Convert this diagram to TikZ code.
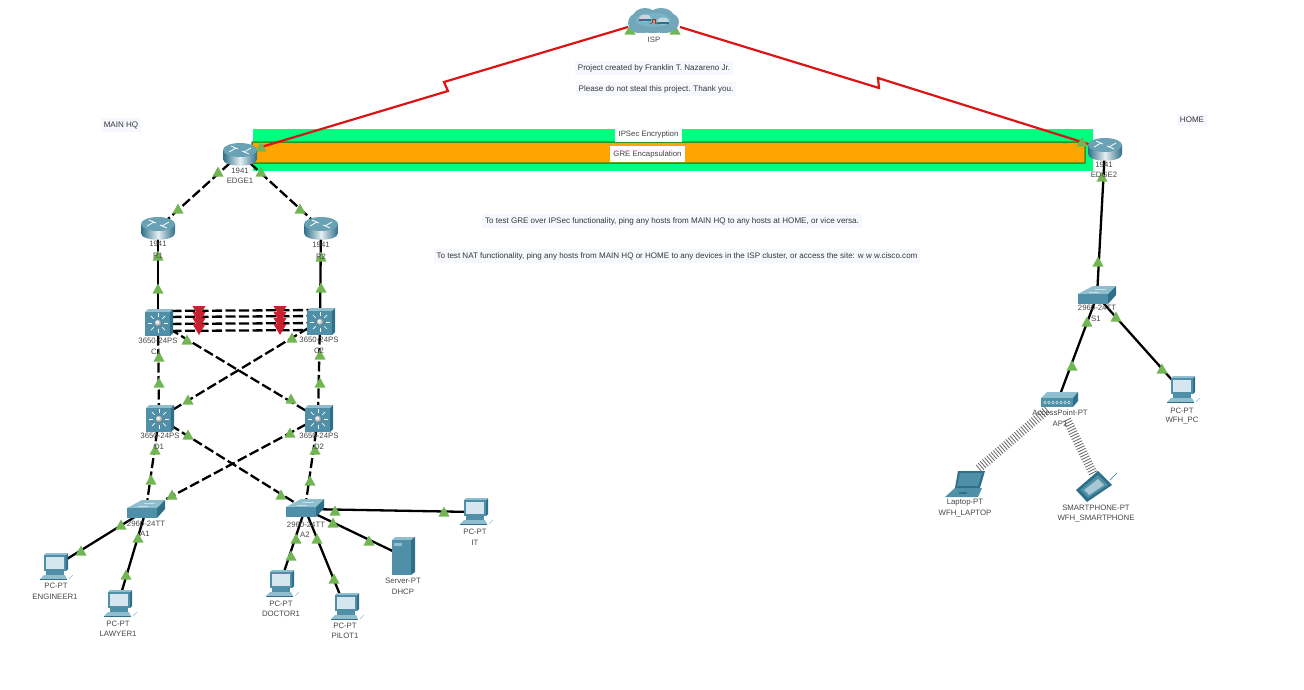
\documentclass[tikz,border=0pt]{standalone}
\usepackage{fontspec}
\setmainfont{Liberation Sans}
\usetikzlibrary{calc,decorations.pathreplacing}
\definecolor{tgreen}{HTML}{72B654}
\definecolor{ired}{HTML}{DC1414}
\definecolor{rtri}{HTML}{C8202E}
\definecolor{teal1}{HTML}{4F90A8}
\definecolor{teal2}{HTML}{2F6F88}
\definecolor{teal3}{HTML}{8FBFCF}
\definecolor{scr}{HTML}{D5E6EE}
\definecolor{notebg}{HTML}{F6F8FE}
\definecolor{ipsec}{HTML}{00FF80}
\definecolor{gre}{HTML}{FFA500}
\definecolor{greb}{HTML}{3E8A24}
\newcommand{\routerI}[1]{%
 \begin{scope}[shift={(#1)}]
 \shade[left color=teal2,right color=teal2,middle color=white!85!teal1] (-17,-4) -- (-17,5) .. controls (-17,14) and (17,14) .. (17,5) -- (17,-4) -- cycle;
 \fill[teal1!85!white] (0,-4) ellipse[x radius=17,y radius=7];
 \draw[white,line width=.8pt] (-11,-2) -- (-4,-6) (11,-6) -- (4,-2) (-9,-8) -- (-2,-5) (9,0) -- (2,-3);
 \end{scope}}
\newcommand{\mlsI}[1]{%
 \begin{scope}[shift={(#1)}]
 \fill[teal3] (-13,-10) -- (-10,-13) -- (15,-13) -- (12,-10) -- cycle;
 \fill[teal2] (12,-10) -- (15,-13) -- (15,11) -- (12,14) -- cycle;
 \fill[teal1] (-13,-10) rectangle (12,14);
 \shade[ball color=white,opacity=.9] (0,1) circle (3.5);
 \foreach \a in {0,45,...,315} \draw[white,line width=.7pt] ($(0,1)+(\a:6)$) -- ($(0,1)+(\a:10)$);
 \end{scope}}
\newcommand{\swI}[1]{%
 \begin{scope}[shift={(#1)}]
 \fill[teal3] (-19,-2) -- (-4,-10) -- (19,-10) -- (11,-2) -- cycle;
 \fill[teal2] (11,-2) -- (19,-10) -- (19,-1) -- (11,8) -- cycle;
 \fill[teal1] (-19,-2) rectangle (11,8);
 \draw[white!70!teal1,line width=.5pt] (-8,-4) -- (2,-4) (-2,-7) -- (9,-7);
 \end{scope}}
\newcommand{\pcI}[1]{%
 \begin{scope}[shift={(#1)}]
 \fill[teal2] (12,-12) -- (14,-14) -- (14,2) -- (12,4) -- cycle;
 \fill[teal3] (-10,-12) -- (-8,-14) -- (14,-14) -- (12,-12) -- cycle;
 \fill[teal1] (-10,-12) rectangle (12,4);
 \fill[scr] (-8,-10) rectangle (10,2);
 \fill[teal1] (-8,4) rectangle (10,8);
 \fill[teal3] (-10,8) -- (11,8) -- (13,12) -- (-14,12) -- cycle;
 \fill[teal2] (-14,12) rectangle (13,13);
 \draw[teal3,line width=.6pt] (15,12) -- (19,8);
 \end{scope}}
\begin{document}
\begin{tikzpicture}[x=1pt,y=-1pt,font=\fontsize{7.8}{9}\selectfont,
 lbl/.style={inner sep=0pt,text=black!72},
 note/.style={fill=notebg,inner sep=3pt,text=black!78,font=\fontsize{8.05}{9}\selectfont},
 tag/.style={fill=white,inner sep=0pt,minimum height=14pt,text=black!75},
 link/.style={line width=2.3pt,black},
 dlink/.style={link,dash pattern=on 10pt off 3.5pt},
 wan/.style={line width=2.2pt,ired},
 radio/.style={line width=.8pt,black!60,decorate,decoration={ticks,segment length=2.8pt,amplitude=4.5pt}}]
\useasboundingbox (0,0) rectangle (1304,689);
% device anchors
\foreach \n/\x/\y in {isp/653/22,edgea/240/154,ra/158/228,rb/321/228,ca/158/322,cb/320/321,da/159/418,db/318/418,aa/146/510,ab/305/509,eng/54/567,law/118/604,doc/280/584,pil/345/607,srv/403/556,it/474/512,edgeb/1105/149,sa/1097/296,ap/1058/400,wpc/1181/390,lap/965/484,pho/1096/487}
 \coordinate (\n) at (\x,\y);
\coordinate (zla) at (448,91); \coordinate (zlb) at (444,82);
\coordinate (zra) at (879,88); \coordinate (zrb) at (878,78);
\coordinate (wa1) at (1047,410); \coordinate (wa2) at (977,470);
\coordinate (wb1) at (1067,420); \coordinate (wb2) at (1093,473);
% tunnels
\fill[ipsec] (253,129) rectangle (1093,171);
\filldraw[fill=gre,draw=greb,line width=1.5pt,rounded corners=.5pt] (252,142) rectangle (1085,163);
\node[tag,minimum width=67pt] (tipsec) at (648.5,134.5) {IPSec Encryption};
\node[tag,minimum width=75pt,minimum height=16pt] (tgre) at (647.5,154) {GRE Encapsulation};
% WAN
\path (edgea) ++(18,-6) coordinate (ea) (edgeb) ++(-7,-2) coordinate (eb) (isp) ++(-25,5) coordinate (ia) (isp) ++(27,5) coordinate (ib);
\draw[wan] (ea) -- (zla) -- (zlb) -- (ia);
\draw[wan] (ib) -- (zra) -- (zrb) -- (eb);
% links
\draw[dlink] (edgea) -- (ra);
\draw[dlink] (edgea) -- (rb);
\draw[link] (ra) -- (ca);
\draw[link] (rb) -- (cb);
\foreach \o in {-11,-5,2,9} \draw[dlink] ($(ca)+(0,\o)$) -- ($(cb)+(0,\o)$);
\draw[dlink] (ca) -- (da);
\draw[dlink] (cb) -- (db);
\draw[dlink] (ca) -- (db);
\draw[dlink] (cb) -- (da);
\draw[dlink] (da) -- (aa);
\draw[dlink] (db) -- (ab);
\draw[dlink] (da) -- (ab);
\draw[dlink] (db) -- (aa);
\draw[link] (aa) -- (eng);
\draw[link] (aa) -- (law);
\draw[link] (ab) -- (doc);
\draw[link] (ab) -- (pil);
\draw[link] (ab) -- (srv);
\draw[link] (ab) -- (it);
\draw[link] (edgeb) -- (sa);
\draw[link] (sa) -- (ap);
\draw[link] (sa) -- (wpc);
\draw[radio] (wa1) -- (wa2);
\draw[radio] (wb1) -- (wb2);
% link lights
\foreach \x/\y in {261/147,1082/142,630/30,675/30,218/172,178/209,261/172,300/209,158/256,158/289,321/257,321/288,187/340,292/338,159/357,159/383,320/355,320/383,188/400,291/399,188/435,290/433,155/450,315/450,151/480,172/495,281/495,310/481,121/525,81/551,138/538,126/575,335/511,444/512,333/523,369/541,296/539,291/556,317/539,334/579,1087/322,1072/366,1116/317,1162/369,1102/177,1098/262}
 \fill[tgreen,shift={(\x,\y)}] (-5.5,4.5) -- (5.5,4.5) -- (0,-5.5) -- cycle;
\foreach \x in {199,280}{\foreach \y in {306,312,318,324}
 \fill[rtri,shift={(\x,\y)}] (-6.5,0) -- (6.5,0) -- (0,11) -- cycle;}
% devices
\foreach \n in {edgea,edgeb,ra,rb} {\routerI{\n}}
\foreach \n in {ca,cb,da,db} {\mlsI{\n}}
\foreach \n in {aa,ab,sa} {\swI{\n}}
\foreach \n in {eng,law,doc,pil,it,wpc} {\pcI{\n}}
% server
\begin{scope}[shift={(srv)}]
 \fill[teal3] (-11,-16) -- (-8,-19) -- (12,-19) -- (8,-16) -- cycle;
 \fill[teal2] (8,-16) -- (12,-19) -- (12,16) -- (8,19) -- cycle;
 \fill[teal1] (-11,-16) rectangle (8,19);
 \fill[teal3] (-9,-13) rectangle (-1,-10);
\end{scope}
% access point
\begin{scope}[shift={(ap)}]
 \fill[teal3] (-17,-2) -- (-11,-8) -- (20,-8) -- (15,-2) -- cycle;
 \fill[teal2] (15,-2) -- (20,-8) -- (20,1) -- (15,7) -- cycle;
 \fill[teal1] (-17,-2) rectangle (15,7);
 \foreach \x in {-13,-9,...,11} \draw[white!75!teal1,line width=.5pt] (\x-1.3,2.5) -- (\x,1) -- (\x+1.3,2.5) -- (\x,4) -- cycle;
\end{scope}
% laptop
\begin{scope}[shift={(lap)}]
 \fill[teal2] (-7,-13) -- (20,-13) -- (15,4) -- (-10,4) -- cycle;
 \fill[teal1] (-5,-11) -- (17,-11) -- (13,2) -- (-8,2) -- cycle;
 \fill[teal1] (-10,4) -- (17,4) -- (13,13) -- (-20,13) -- cycle;
 \fill[teal2] (-6,8) rectangle (2,10);
\end{scope}
% smartphone
\begin{scope}[shift={(pho)}]
 \fill[teal2] (-20,3) -- (2,-16) -- (16,-2) -- (-9,15) -- cycle;
 \fill[teal1] (-16,3) -- (2,-12) -- (12,-2) -- (-8,11) -- cycle;
 \fill[white!50!teal1] (-12,3) -- (2,-8) -- (8,-2) -- (-7,8) -- cycle;
 \draw[teal2,line width=.5pt] (14,-7) -- (21,-14);
\end{scope}
% cloud
\begin{scope}[shift={(isp)}]
 \foreach \x/\y/\a/\b in {-15/1/10/10,-8/-5/12/9,8/-5/13/9,16/0/10/9,0/3/18/8,-10/3/13/8,11/3/14/8}
  \fill[teal1!80!white] (\x,\y) ellipse[x radius=\a,y radius=\b];
 \fill[teal3!70!teal1] (0,-2) ellipse[x radius=18,y radius=7];
 \foreach \x/\y in {-8/-4,10/-1} {
  \fill[white!65!teal1] (\x,\y) ellipse[x radius=6,y radius=3.5];
  \fill[teal2] (\x-6,\y+1) rectangle (\x+6,\y+3);
 }
 \draw[greb,line width=.8pt] (-3,1) -- (-1,1);
 \draw[ired,line width=.8pt] (-1,1) -- (-1,-3) -- (2,-3) -- (2,1);
 \draw[greb,line width=.8pt] (2,1) -- (5,1);
\end{scope}
% device labels
\foreach \n/\x/\y/\t in {isp/654/40/ISP,
 ea1/240/171/1941,ea2/240/181/EDGE1,ra1/158/244/1941,ra2/158/256/R1,rb1/321/245/1941,rb2/321/257/R2,
 ca1/158/341/3650-24PS,ca2/156/352/C1,cb1/319/340/3650-24PS,cb2/319/351/C2,
 da1/160/436/3650-24PS,da2/159/447/D1,db1/319/436/3650-24PS,db2/319/447/D2,
 aa1/146/524/2960-24TT,aa2/145/534/A1,ab1/306/525/2960-24TT,ab2/305/535/A2,
 en1/56/586/PC-PT,en2/55/597/ENGINEER1,la1/118/624/PC-PT,la2/118/634/LAWYER1,
 do1/281/604/PC-PT,do2/281/614/DOCTOR1,pi1/345/626/PC-PT,pi2/345/636/PILOT1,
 sr1/403/581/Server-PT,sr2/403/592/DHCP,it1/475/532/PC-PT,it2/475/543/IT,
 eb1/1104/165/1941,eb2/1104/175/EDGE2,sa1/1097/308/2960-24TT,sa2/1096/319/S1,
 ap1/1060/413/AccessPoint-PT,ap2/1060/424/AP1,wp1/1182/411/PC-PT,wp2/1182/421/WFH\_PC,
 lp1/965/503/Laptop-PT,lp2/965/514/WFH\_LAPTOP,ph1/1096/508/SMARTPHONE-PT,ph2/1096/519/WFH\_SMARTPHONE}
 \node[lbl] (l\n) at (\x,\y) {\t};
% notes
\node[note] (nmain) at (121,125) {MAIN HQ};
\node[note] (nhome) at (1192,120) {HOME};
\node[note] (nproj) at (654,68) {Project created by Franklin T. Nazareno Jr.};
\node[note] (nplease) at (656,89) {Please do not steal this project. Thank you.};
\node[note] (ngre) at (672,221) {To test GRE over IPSec functionality, ping any hosts from MAIN HQ to any hosts at HOME, or vice versa.};
\node[note] (nnat) at (677,256) {To test NAT functionality, ping any hosts from MAIN HQ or HOME to any devices in the ISP cluster, or access the site: w w w.cisco.com};
\end{tikzpicture}
\end{document}
